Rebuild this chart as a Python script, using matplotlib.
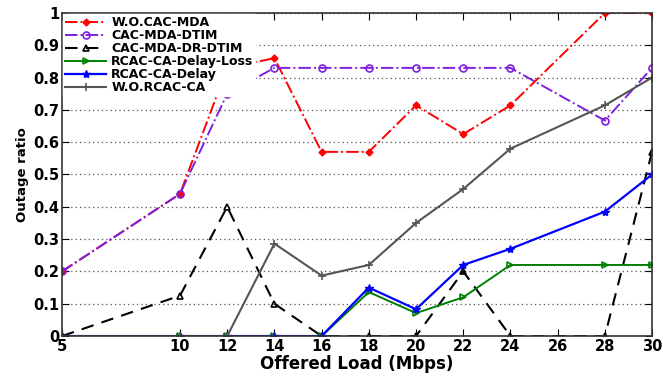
import numpy as np
import matplotlib
matplotlib.use('Agg')
import matplotlib.pyplot as plt

# offered load (Mbps)
load = [5, 10, 12, 14, 16, 18, 20, 22, 24, 28, 30]

# outage ratio per scheme
wo_cac_mda = [0.2, 0.44, 0.83, 0.86, 0.57, 0.57, 0.714, 0.625, 0.714, 1.0, 1.0]
cac_mda_dtim = [0.2, 0.44, 0.75, 0.83, 0.83, 0.83, 0.83, 0.83, 0.83, 0.667, 0.83]
cac_mda_dr_dtim = [0, 0.125, 0.4, 0.1, 0, 0, 0, 0.2, 0, 0, 0.57]
rcac_delay_loss = [0, 0, 0, 0, 0, 0.136, 0.071, 0.12, 0.22, 0.22, 0.22]
rcac_delay = [0, 0, 0, 0, 0, 0.15, 0.083, 0.22, 0.27, 0.385, 0.5]
wo_rcac_ca = [0, 0, 0, 0.286, 0.187, 0.22, 0.35, 0.455, 0.58, 0.714, 0.8]

xticks = [5, 10, 12, 14, 16, 18, 20, 22, 24, 26, 28, 30]
yticks = [0, 0.1, 0.2, 0.3, 0.4, 0.5, 0.6, 0.7, 0.8, 0.9, 1]

fig = plt.figure(figsize=(6.63, 3.81), dpi=100)
ax = fig.add_axes([0.0935, 0.118, 0.89, 0.848])

ax.plot(load, wo_cac_mda, '-.', color='red', marker='D', ms=3.5, lw=1.4,
        label='W.O.CAC-MDA')
ax.plot(load, cac_mda_dtim, '-.', color='#7f1fe0', marker='o', ms=5, mfc='none',
        mew=1.2, lw=1.4, label='CAC-MDA-DTIM')
ax.plot(load, cac_mda_dr_dtim, '--', color='black', marker='^', ms=5, mfc='none',
        mew=1.2, lw=1.5, dashes=(6, 4), label='CAC-MDA-DR-DTIM')
ax.plot(load, rcac_delay_loss, '-', color='green', marker='>', ms=5, mfc='none',
        mew=1.2, lw=1.4, label='RCAC-CA-Delay-Loss')
ax.plot(load, rcac_delay, '-', color='blue', marker='*', ms=6, lw=1.6,
        label='RCAC-CA-Delay')
ax.plot(load, wo_rcac_ca, '-', color='#555555', marker='+', ms=6, mew=1.2, lw=1.5,
        label='W.O.RCAC-CA')

ax.set_xlim(5, 30)
ax.set_ylim(0, 1)
ax.set_xticks(xticks)
ax.set_yticks(yticks)
ax.set_yticklabels(['0', '0.1', '0.2', '0.3', '0.4', '0.5', '0.6', '0.7', '0.8', '0.9', '1'])
ax.yaxis.grid(True, linestyle=(0, (1, 2.5)), color='#555555', lw=0.9)
ax.tick_params(direction='in', top=True, right=True, length=5, labelsize=10.5, pad=2)
for lab in ax.get_xticklabels() + ax.get_yticklabels():
    lab.set_fontweight('bold')
for sp in ax.spines.values():
    sp.set_linewidth(1.2)
    sp.set_color('#333333')

ax.set_xlabel('Offered Load (Mbps)', fontsize=12, fontweight='bold', labelpad=1)
ax.set_ylabel('Outage ratio', fontsize=9.5, fontweight='bold', labelpad=3)

leg = ax.legend(loc='upper left', frameon=True, fancybox=False, framealpha=1,
                edgecolor='white', handlelength=3.3,
                labelspacing=0.0, borderpad=0.15, borderaxespad=0.1,
                handletextpad=0.4, prop={'weight': 'bold', 'size': 9})

fig.savefig('out.png', dpi=100)
